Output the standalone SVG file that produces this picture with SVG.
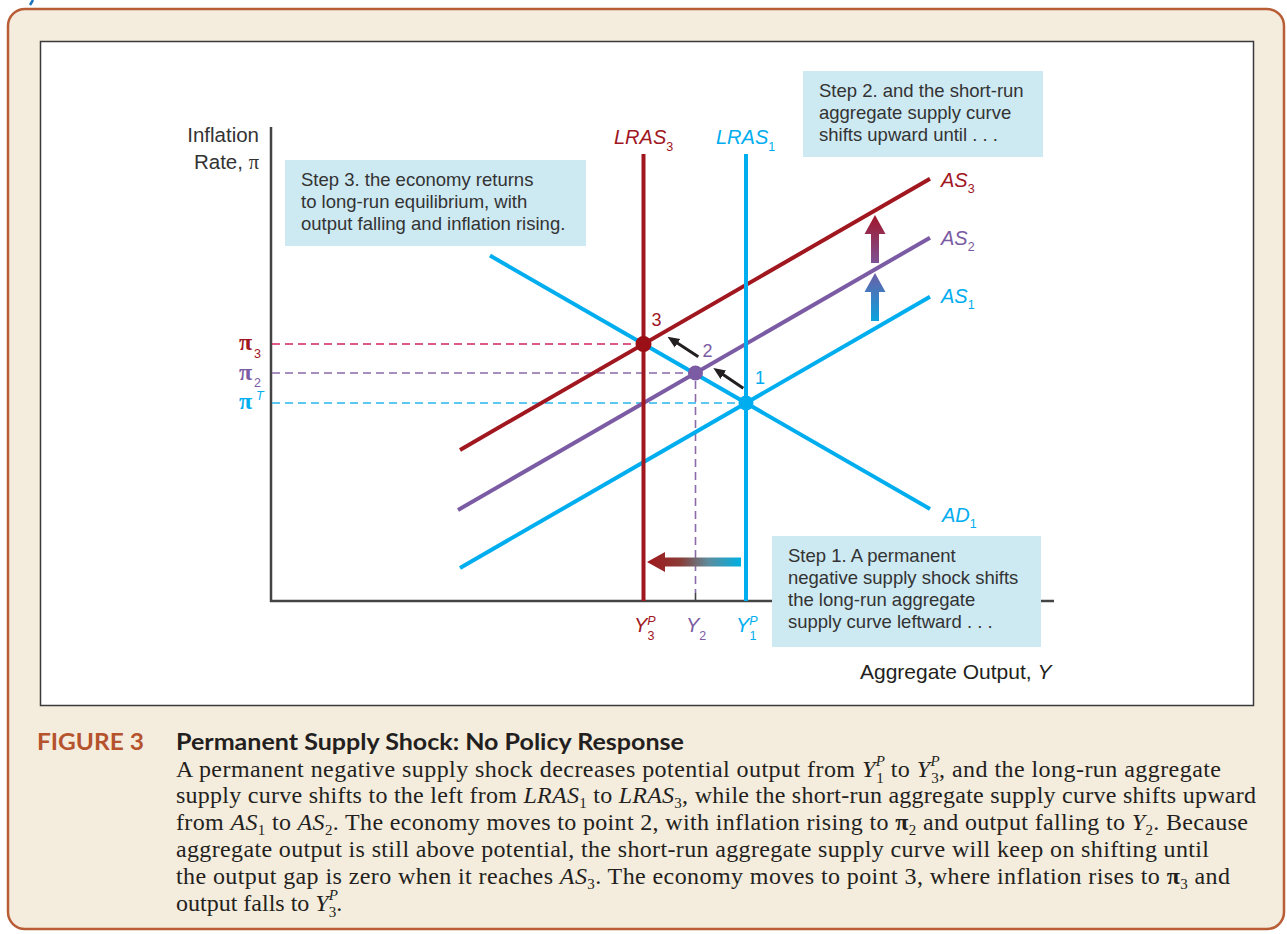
<svg xmlns="http://www.w3.org/2000/svg" width="1287" height="934" viewBox="0 0 1287 934">
<style>
.sans{font-family:"Liberation Sans",Arial,sans-serif;}
.serif{font-family:"Liberation Serif","Times New Roman",serif;}
.box{fill:#cde9f2;}
.bt{font-size:18.5px;fill:#333;}
.curve{fill:none;stroke-width:4;}
.dash{fill:none;stroke-width:1.6;stroke-dasharray:8 5;}
.lbl{font-style:italic;font-size:20px;}
.sub{font-size:12.5px;font-style:normal;}
.sup{font-size:12.5px;}
.pt{font-size:18px;}
.pi{font-size:24px;font-weight:bold;}
.cap{font-size:24px;fill:#231f20;}
.cs{font-size:15px;font-style:normal;}
.ci{font-style:italic;}
.red{fill:#a0171f;}
.pur{fill:#7b5ba3;}
.cya{fill:#00adef;}
</style>
<defs>
<linearGradient id="gLow" gradientUnits="userSpaceOnUse" x1="0" y1="321" x2="0" y2="273">
<stop offset="0" stop-color="#07a3de"/><stop offset="1" stop-color="#6c5ea6"/>
</linearGradient>
<linearGradient id="gUp" gradientUnits="userSpaceOnUse" x1="0" y1="263" x2="0" y2="215">
<stop offset="0" stop-color="#7c5193"/><stop offset="1" stop-color="#a2162a"/>
</linearGradient>
<linearGradient id="gLeft" gradientUnits="userSpaceOnUse" x1="647" y1="0" x2="741" y2="0">
<stop offset="0" stop-color="#a0171c"/><stop offset="0.35" stop-color="#8a3b36"/><stop offset="0.65" stop-color="#5e8c9c"/><stop offset="1" stop-color="#00b0e2"/>
</linearGradient>
<marker id="ah" markerUnits="userSpaceOnUse" markerWidth="12" markerHeight="12" viewBox="0 0 12 10" refX="3" refY="5" orient="auto">
<path d="M0,0 L12,5 L0,10 z" fill="#231f20"/>
</marker>
</defs>

<g id="frame">
<rect x="8" y="9" width="1276" height="920" rx="17" fill="#f4ecdd" stroke="#b95d36" stroke-width="2.5"/>
<line x1="30" y1="5" x2="33" y2="0" stroke="#1c75bc" stroke-width="2.5"/>
<rect x="40.5" y="41.5" width="1213" height="664" fill="#ffffff" stroke="#3a3a3a" stroke-width="1.5"/>
</g>

<g id="axes" stroke="#444" stroke-width="2.5" fill="none">
<line x1="271" y1="127" x2="271" y2="602"/>
<line x1="270" y1="601" x2="1054" y2="601"/>
</g>

<g id="guides">
<line class="dash" x1="272" y1="344" x2="637" y2="344" stroke="#d4235f"/>
<line class="dash" x1="272" y1="373" x2="689" y2="373" stroke="#8c6aa8"/>
<line class="dash" x1="272" y1="403" x2="740" y2="403" stroke="#29b6ea"/>
<line class="dash" x1="695.5" y1="381" x2="695.5" y2="593" stroke="#8c6aa8"/>
<line x1="695.5" y1="593" x2="695.5" y2="601" stroke="#444" stroke-width="1.6"/>
</g>

<g id="connectors">
<line id="AS1" class="curve" x1="460" y1="568" x2="930" y2="296.8" stroke="#00adef"/>
<line id="AS2" class="curve" x1="458" y1="510" x2="930" y2="237.7" stroke="#7b5ba3"/>
<line id="AS3" class="curve" x1="460" y1="449.9" x2="930" y2="178.7" stroke="#a0171f"/>
<line id="AD1" class="curve" x1="490" y1="255.6" x2="930" y2="508.9" stroke="#00adef"/>
<line id="LRAS3" class="curve" x1="643.5" y1="154" x2="643.5" y2="601" stroke="#a0171f"/>
<line id="LRAS1" class="curve" x1="746" y1="154" x2="746" y2="601" stroke="#00adef"/>
<line x1="698.3" y1="356.7" x2="675" y2="341.6" stroke="#231f20" stroke-width="3" marker-end="url(#ah)"/>
<line x1="743.3" y1="388.3" x2="720.8" y2="373.1" stroke="#231f20" stroke-width="3" marker-end="url(#ah)"/>
<polygon points="871,321 871,292 864.5,292 875,273 885.5,292 879,292 879,321" fill="url(#gLow)"/>
<polygon points="871,263 871,234 864.5,234 875,215 885.5,234 879,234 879,263" fill="url(#gUp)"/>
<polygon points="741,557.5 665,557.5 665,552 647,562 665,572 665,566.5 741,566.5" fill="url(#gLeft)"/>
</g>

<g id="points">
<g id="point3"><circle cx="643.5" cy="344" r="8" fill="#9b0f16"/><text class="sans pt red" x="651.5" y="326">3</text></g>
<g id="point2"><circle cx="695.5" cy="373" r="7.5" fill="#7b5ba3"/><text class="sans pt pur" x="702.5" y="356.5">2</text></g>
<g id="point1"><circle cx="746" cy="403" r="7.5" fill="#00adef"/><text class="sans pt cya" x="755" y="383.5">1</text></g>
</g>

<g id="labels">
<text class="sans" font-size="20.5" fill="#333" text-anchor="end" x="259" y="142">Inflation</text>
<text class="sans" font-size="20.5" fill="#333" text-anchor="end" x="259" y="169">Rate, <tspan class="serif">π</tspan></text>
<text class="serif pi red" x="239" y="350">π</text><text class="sans sub red" x="254" y="357.5">3</text>
<text class="serif pi pur" x="239" y="379.5">π</text><text class="sans sub pur" x="254" y="386.5">2</text>
<text class="serif pi cya" x="239" y="409">π</text><text class="sans sup cya" font-style="italic" x="256" y="400">T</text>
<text class="sans lbl red" x="614" y="144">LRAS<tspan class="sub" dy="7">3</tspan></text>
<text class="sans lbl cya" x="716" y="144">LRAS<tspan class="sub" dy="7">1</tspan></text>
<text class="sans lbl red" x="941" y="186.5">AS<tspan class="sub" dy="6">3</tspan></text>
<text class="sans lbl pur" x="941" y="245">AS<tspan class="sub" dy="6">2</tspan></text>
<text class="sans lbl cya" x="941" y="303">AS<tspan class="sub" dy="6">1</tspan></text>
<text class="sans lbl cya" x="942" y="521.5">AD<tspan class="sub" dy="6">1</tspan></text>
<text class="sans lbl red" x="634" y="632">Y<tspan class="sup" dy="-7">P</tspan><tspan class="sub" dx="-8.3" dy="15">3</tspan></text>
<text class="sans lbl pur" x="686" y="632">Y<tspan class="sub" dy="8">2</tspan></text>
<text class="sans lbl cya" x="736" y="632">Y<tspan class="sup" dy="-7">P</tspan><tspan class="sub" dx="-8.3" dy="15">1</tspan></text>
<text class="sans" font-size="21" fill="#231f20" x="860" y="679">Aggregate Output, <tspan font-style="italic">Y</tspan></text>
</g>

<g id="step2">
<rect class="box" x="803" y="71" width="240" height="86"/>
<text class="sans bt" x="819" y="97">Step 2. and the short-run</text>
<text class="sans bt" x="819" y="119">aggregate supply curve</text>
<text class="sans bt" x="819" y="141">shifts upward until . . .</text>
</g>

<g id="step3">
<rect class="box" x="285" y="160" width="301" height="86"/>
<text class="sans bt" x="301" y="186">Step 3. the economy returns</text>
<text class="sans bt" x="301" y="208">to long-run equilibrium, with</text>
<text class="sans bt" x="301" y="230">output falling and inflation rising.</text>
</g>

<g id="step1">
<rect class="box" x="772" y="536" width="269" height="111"/>
<text class="sans bt" x="788" y="562">Step 1. A permanent</text>
<text class="sans bt" x="788" y="584">negative supply shock shifts</text>
<text class="sans bt" x="788" y="606">the long-run aggregate</text>
<text class="sans bt" x="788" y="628">supply curve leftward . . .</text>
</g>

<g id="caption">
<text font-family="Lato,'Open Sans',sans-serif" font-weight="bold" font-size="23" fill="#b5532d" x="37" y="750" textLength="107" lengthAdjust="spacingAndGlyphs">FIGURE 3</text>
<text font-family="Lato,'Open Sans',sans-serif" font-weight="bold" font-size="23" fill="#231f20" x="176" y="750" textLength="508" lengthAdjust="spacingAndGlyphs">Permanent Supply Shock: No Policy Response</text>
<text class="serif cap" x="176" y="776.5" textLength="1045" lengthAdjust="spacing">A permanent negative supply shock decreases potential output from <tspan class="ci">Y</tspan><tspan class="cs ci" dy="-10.5">P</tspan><tspan class="cs" dx="-9" dy="17">1</tspan><tspan dy="-6.5"> to </tspan><tspan class="ci">Y</tspan><tspan class="cs ci" dy="-10.5">P</tspan><tspan class="cs" dx="-9" dy="17">3</tspan><tspan dy="-6.5">, and the long-run aggregate</tspan></text>
<text class="serif cap" x="176" y="803.3" textLength="1080" lengthAdjust="spacing">supply curve shifts to the left from <tspan class="ci">LRAS</tspan><tspan class="cs" dy="5">1</tspan><tspan dy="-5"> to </tspan><tspan class="ci">LRAS</tspan><tspan class="cs" dy="5">3</tspan><tspan dy="-5">, while the short-run aggregate supply curve shifts upward</tspan></text>
<text class="serif cap" x="176" y="830.1" textLength="1072" lengthAdjust="spacing">from <tspan class="ci">AS</tspan><tspan class="cs" dy="5">1</tspan><tspan dy="-5"> to </tspan><tspan class="ci">AS</tspan><tspan class="cs" dy="5">2</tspan><tspan dy="-5">. The economy moves to point 2, with inflation rising to </tspan><tspan font-weight="bold">π</tspan><tspan class="cs" dy="5">2</tspan><tspan dy="-5"> and output falling to </tspan><tspan class="ci">Y</tspan><tspan class="cs" dy="5">2</tspan><tspan dy="-5">. Because</tspan></text>
<text class="serif cap" x="176" y="856.9" textLength="1033" lengthAdjust="spacing">aggregate output is still above potential, the short-run aggregate supply curve will keep on shifting until</text>
<text class="serif cap" x="176" y="883.7" textLength="1054" lengthAdjust="spacing">the output gap is zero when it reaches <tspan class="ci">AS</tspan><tspan class="cs" dy="5">3</tspan><tspan dy="-5">. The economy moves to point 3, where inflation rises to </tspan><tspan font-weight="bold">π</tspan><tspan class="cs" dy="5">3</tspan><tspan dy="-5"> and</tspan></text>
<text class="serif cap" x="176" y="910.5">output falls to <tspan class="ci">Y</tspan><tspan class="cs ci" dy="-10.5">P</tspan><tspan class="cs" dx="-9" dy="17">3</tspan><tspan dy="-6.5">.</tspan></text>
</g>
</svg>
